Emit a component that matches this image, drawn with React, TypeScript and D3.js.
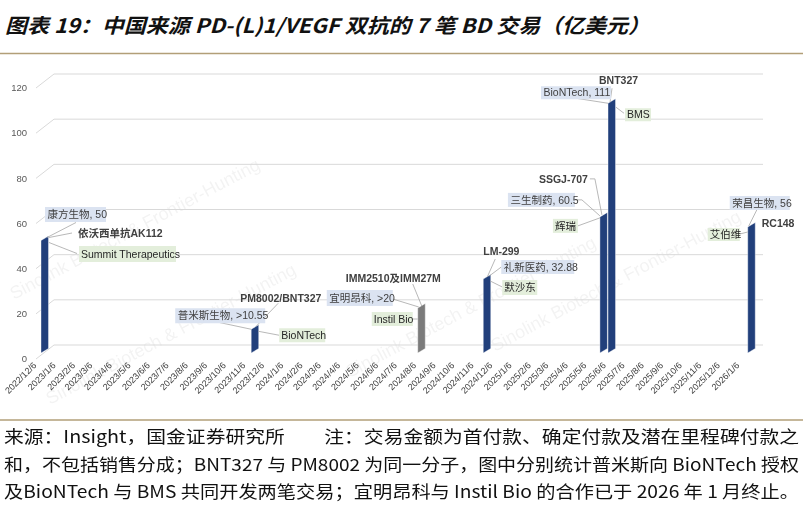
import * as d3 from "d3";

// deals (values in 亿美元)
const dealDates = ["2022-12-06", "2023-11-08", "2024-08-01", "2024-11-14", "2025-05-20", "2025-06-02", "2026-01-12"];
const companies = ["康方生物", "普米斯生物", "宜明昂科", "礼新医药", "三生制药", "BioNTech", "荣昌生物"];
const amountLabels = ["50", ">10.55", ">20", "32.88", "60.5", "111", "56"];
const amounts = [50, 10.55, 20, 32.88, 60.5, 111, 56];
const drugs = ["依沃西单抗AK112", "PM8002/BNT327", "IMM2510及IMM27M", "LM-299", "SSGJ-707", "BNT327", "RC148"];
const partners = ["Summit Therapeutics", "BioNTech", "Instil Bio", "默沙东", "辉瑞", "BMS", "艾伯维"];
const terminated = [false, false, true, false, false, false, false];

const yTicks = [0, 20, 40, 60, 80, 100, 120];
const axisStart = "2022-12-06";
const axisEnd = "2026-01-06";

const title = "图表 19：中国来源 PD-(L)1/VEGF 双抗的 7 笔 BD 交易（亿美元）";
const notes = [
    "来源：Insight，国金证券研究所　　注：交易金额为首付款、确定付款及潜在里程碑付款之",
    "和，不包括销售分成；BNT327 与 PM8002 为同一分子，图中分别统计普米斯向 BioNTech 授权",
    "及BioNTech 与 BMS 共同开发两笔交易；宜明昂科与 Instil Bio 的合作已于 2026 年 1 月终止。",
];
const watermark = "Sinolink Biotech & Frontier-Hunting";

type Box = { dx: number; dy: number; w: number; h: number };
type Pt = [number, number];
interface Label {
    blue: Box;
    blueLine: Pt[];
    drug: Pt;
    drugLine: Pt[];
    green: Box;
    greenLine: Pt[];
}

// label placement, offsets from the top-left corner of each bar
const layout: Label[] = [
    { blue: { dx: 4, dy: -33.5, w: 61, h: 15 }, blueLine: [[35, -18], [6, -3]], drug: [37, -7.5], drugLine: [[31, -7.5], [8, -3]], green: { dx: 38, dy: 5.5, w: 97, h: 16 }, greenLine: [[36, 13], [8, 2]] },
    { blue: { dx: -76, dy: -21, w: 90, h: 15 }, blueLine: [[-33, -7], [0, 0]], drug: [-11, -31], drugLine: [[27, -26], [5, -3]], green: { dx: 28, dy: -1, w: 46, h: 14 }, greenLine: [[7, 2], [28, 6]] },
    { blue: { dx: -91, dy: -18, w: 66, h: 16 }, blueLine: [[-25, -9], [1, -1]], drug: [-72, -30], drugLine: [[-5, -24], [4, -2]], green: { dx: -46, dy: 4, w: 41, h: 14 }, greenLine: [[-5, 11], [0, 11]] },
    { blue: { dx: 18, dy: -19, w: 73, h: 14 }, blueLine: [[18, -12], [6, -3]], drug: [0, -28], drugLine: [[12, -20], [4, -2]], green: { dx: 19, dy: 1, w: 35, h: 15 }, greenLine: [[19, 8], [7, 2]] },
    { blue: { dx: -92, dy: -24, w: 67, h: 14 }, blueLine: [[-25, -17], [-18, -17], [0, -1]], drug: [-61, -38], drugLine: [[-10, -38], [-5, -38], [2, -2]], green: { dx: -47, dy: 2, w: 25, h: 14 }, greenLine: [[-22, 9], [0, 1]] },
    { blue: { dx: -67, dy: -17, w: 70, h: 13 }, blueLine: [[-32, -5], [0, 0]], drug: [-9, -23], drugLine: [[4, -15], [2, -1]], green: { dx: 17, dy: 5, w: 26, h: 13 }, greenLine: [[8, 4], [16, 10]] },
    { blue: { dx: -18, dy: -31, w: 60, h: 14 }, blueLine: [[9, -17], [1, -1]], drug: [14, -4], drugLine: [[14, -4], [14, -4]], green: { dx: -40, dy: 1, w: 32, h: 13 }, greenLine: [[-8, 7], [0, 5]] },
];

const parse = d3.timeParse("%Y-%m-%d");
const fontLatin = "Liberation Sans, Arial, 'Noto Sans CJK SC', sans-serif";
const fontCJK = "'Noto Sans CJK SC', 'Liberation Sans', sans-serif";

export default function App() {
    const width = 803;
    const height = 506;
    const barW = 7.5;
    const skew = 4.5;

    const start = parse(axisStart)!;
    const end = parse(axisEnd)!;
    const x = d3.scaleTime().domain([start, end]).range([41, 744]);
    const yFront = d3.scaleLinear().domain([0, 120]).range([353, 83]);
    const yBack = d3.scaleLinear().domain([0, 120]).range([345, 74]);

    const monthTicks = d3.timeMonth
        .range(d3.timeMonth.floor(start), d3.timeMonth.offset(d3.timeMonth.floor(end), 1))
        .map((d) => d3.timeDay.offset(d, start.getDate() - 1));
    const fmt = (d: Date) => `${d.getFullYear()}/${d.getMonth() + 1}/${d.getDate()}`;

    const line = d3.line<Pt>();

    return (
        <svg width={width} height={height} style={{ position: "absolute", left: 0, top: 0, background: "#fff" }}>
            <rect width={width} height={height} fill="#fff" />
            <text x={5} y={33} fontFamily={fontCJK} fontSize={20} fontStyle="italic" fontWeight={600} fill="#111"
                textLength={645} lengthAdjust="spacingAndGlyphs">
                {title}
            </text>
            <line x1={0} x2={width} y1={53.5} y2={53.5} stroke="#b29f78" strokeWidth={1.3} />

            {/* watermark */}
            <g fontFamily={fontLatin} fontSize={18} fill="#000" opacity={0.05}>
                <text transform="translate(14,300) rotate(-28)">{watermark}</text>
                <text transform="translate(50,405) rotate(-28)">{watermark}</text>
                <text transform="translate(350,378) rotate(-28)">{watermark}</text>
                <text transform="translate(495,352) rotate(-28)">{watermark}</text>
            </g>

            {/* grid */}
            {yTicks.map((v) => (
                <g key={v}>
                    <path d={`M36,${yBack(v) + 14}L54,${yBack(v)}L763,${yBack(v)}`} fill="none" stroke="#d9d9d9" strokeWidth={1} />
                    <text x={27} y={yBack(v) + 14} dy="0.35em" textAnchor="end" fontFamily={fontLatin} fontSize={9.5} fill="#595959">
                        {v}
                    </text>
                </g>
            ))}

            {/* x axis labels */}
            {monthTicks.map((d, i) => (
                <text key={i} transform={`translate(${x(d) - 4},366) rotate(-45)`} textAnchor="end"
                    fontFamily={fontLatin} fontSize={9} fill="#404040">
                    {fmt(d)}
                </text>
            ))}

            {/* bars */}
            {dealDates.map((ds, i) => {
                const x0 = x(parse(ds)!);
                const yb = yFront(0);
                const yt = yFront(amounts[i]);
                const pts = [[x0, yb], [x0 + barW, yb - skew], [x0 + barW, yt - skew], [x0, yt]];
                return (
                    <polygon key={i} points={pts.map((p) => p.join(",")).join(" ")}
                        fill={terminated[i] ? "#7b7b7b" : "#213f7b"} stroke="#fff" strokeWidth={0.4} />
                );
            })}

            {/* annotations */}
            {dealDates.map((ds, i) => {
                const bx = x(parse(ds)!);
                const by = yFront(amounts[i]);
                const L = layout[i];
                const shift = (pts: Pt[]) => pts.map(([a, b]) => [bx + a, by + b] as Pt);
                return (
                    <g key={i}>
                        <g fill="none" stroke="#a6a6a6" strokeWidth={0.8}>
                            <path d={line(shift(L.blueLine)) || undefined} />
                            <path d={line(shift(L.drugLine)) || undefined} />
                            <path d={line(shift(L.greenLine)) || undefined} />
                        </g>
                        <rect x={bx + L.blue.dx} y={by + L.blue.dy} width={L.blue.w} height={L.blue.h} fill="#dbe3f1" />
                        <text x={bx + L.blue.dx + 2.5} y={by + L.blue.dy + L.blue.h / 2} dy="0.35em"
                            fontFamily={fontLatin} fontSize={10.5} fill="#404040">
                            {companies[i]}, {amountLabels[i]}
                        </text>
                        <text x={bx + L.drug[0]} y={by + L.drug[1]} dy="0.35em" fontFamily={fontLatin}
                            fontSize={10.5} fontWeight="bold" fill="#404040">
                            {drugs[i]}
                        </text>
                        <rect x={bx + L.green.dx} y={by + L.green.dy} width={L.green.w} height={L.green.h} fill="#e3eedb" />
                        <text x={bx + L.green.dx + 2} y={by + L.green.dy + L.green.h / 2} dy="0.35em"
                            fontFamily={fontLatin} fontSize={10.5} fill="#262626">
                            {partners[i]}
                        </text>
                    </g>
                );
            })}

            {/* footer */}
            <line x1={0} x2={width} y1={420} y2={420} stroke="#b29f78" strokeWidth={1.3} />
            {notes.map((t, i) => (
                <text key={i} x={4} y={443 + i * 27.5} fontFamily={fontCJK} fontSize={17} fill="#111"
                    textLength={795} lengthAdjust="spacingAndGlyphs">
                    {t}
                </text>
            ))}
        </svg>
    );
}
